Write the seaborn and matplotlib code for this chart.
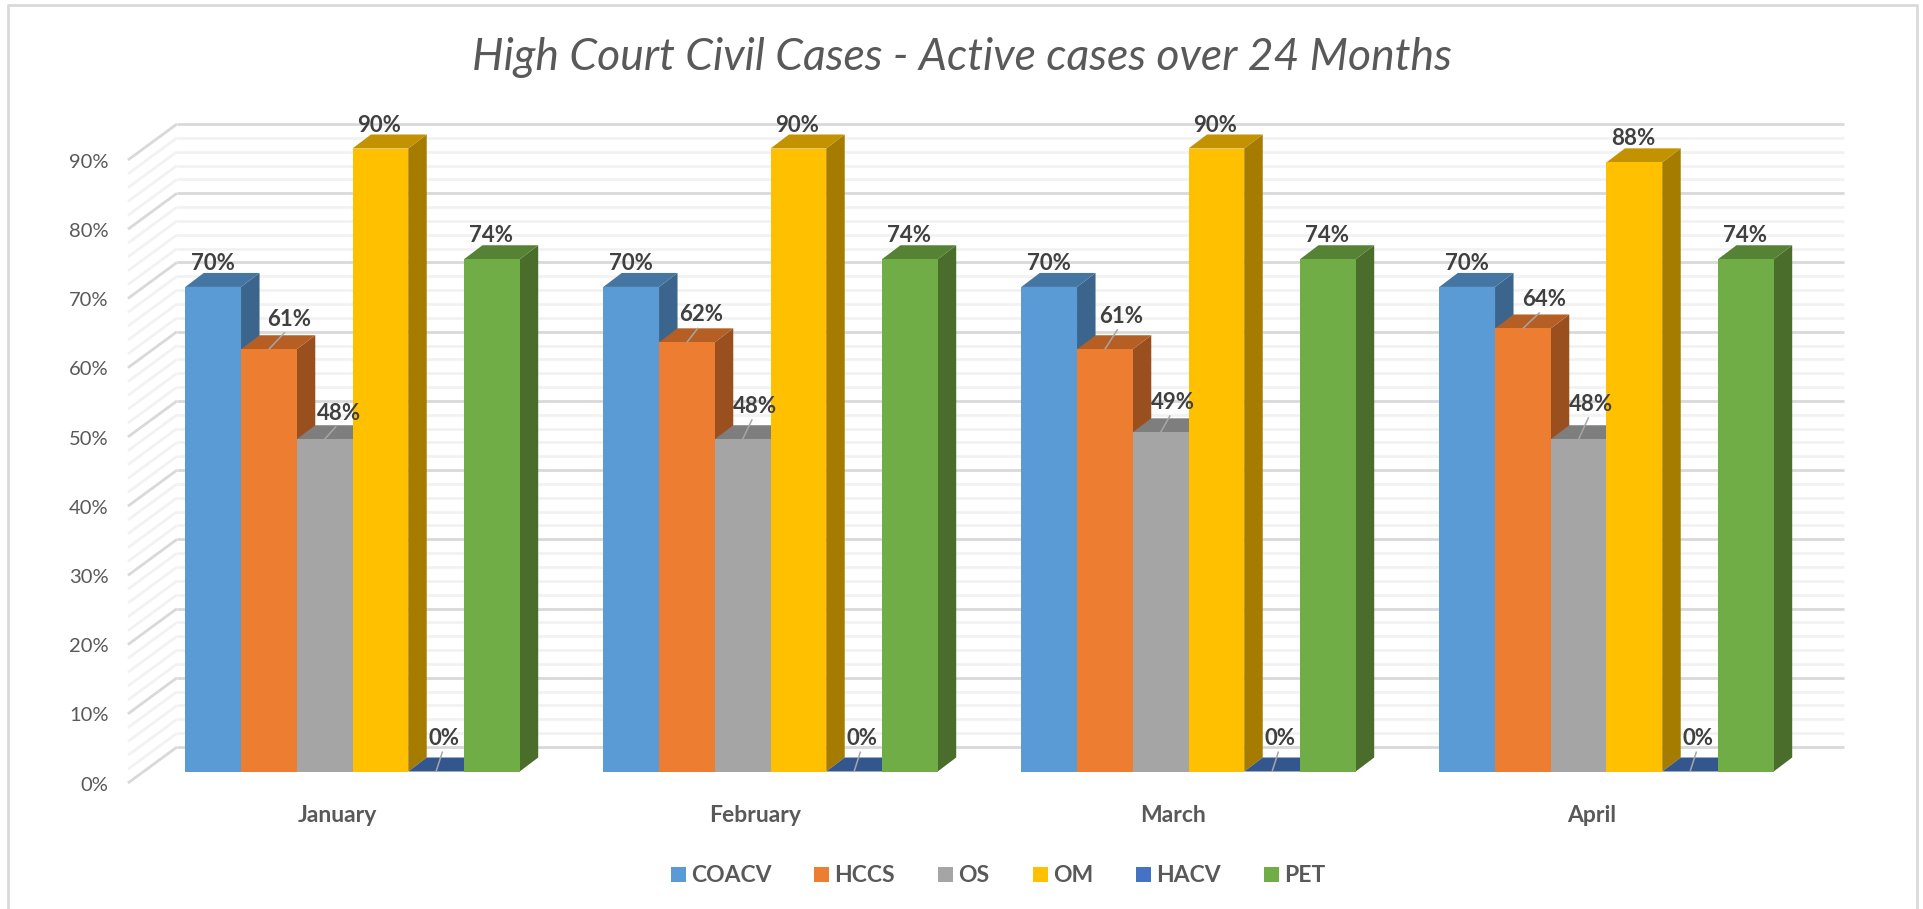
import numpy as np
import pandas as pd
import matplotlib
matplotlib.use("Agg")
import matplotlib.pyplot as plt
import seaborn as sns
from matplotlib.lines import Line2D
from matplotlib.patches import Polygon

months = ["January", "February", "March", "April"]
series = ["COACV", "HCCS", "OS", "OM", "HACV", "PET"]
coacv = [70, 70, 70, 70]
hccs = [61, 62, 61, 64]
os_cases = [48, 48, 49, 48]
om = [90, 90, 90, 88]
hacv = [0, 0, 0, 0]
pet = [74, 74, 74, 74]
y_ticks = [0, 10, 20, 30, 40, 50, 60, 70, 80, 90]

front_colors = ["#5B9BD5", "#ED7D31", "#A5A5A5", "#FFC000", "#4472C4", "#70AD47"]
side_colors = ["#3B658C", "#9A4F1E", "#6B6B6B", "#A67C00", "#2C4A80", "#4A6D2C"]
top_colors = ["#4575A2", "#B55F25", "#7E7E7E", "#C39200", "#34568F", "#558235"]

# pixel layout of the picture
W, H = 1923, 909
X0, UNIT = 352.5, 418.0     # centre of January, px per month
Y0, PCT = 771.5, 623 / 90   # front baseline, px per percent
DX, DY = 18.5, 14.0         # depth of one bar
AX_L, AX_R, AX_T, AX_B = 128, 1860, 90, 790

# data label offsets from the front top centre of each bar, px, per month
label_off = {
    "COACV": [(0, 23.5)] * 4,
    "HCCS": [(20, 30), (14, 27.5), (16, 33), (21, 29)],
    "OS": [(14.5, 26), (12, 33), (12, 30), (12.5, 35)],
    "OM": [(-1, 23.5)] * 4,
    "HACV": [(8, 33), (8, 33), (8, 33), (8, 33)],
    "PET": [(-1, 23.5)] * 4,
}

sns.set_theme(style="white")
plt.rcParams["font.family"] = ["Lato", "DejaVu Sans"]

df = pd.DataFrame({
    "month": months * 6,
    "series": np.repeat(series, 4),
    "value": coacv + hccs + os_cases + om + hacv + pet,
})

fig = plt.figure(figsize=(W / 100, H / 100), dpi=100)
ax = fig.add_axes([AX_L / W, 1 - AX_B / H, (AX_R - AX_L) / W, (AX_B - AX_T) / H])
sns.barplot(data=df, x="month", y="value", hue="series", order=months, hue_order=series,
            palette=front_colors, width=0.8, saturation=1, linewidth=0, ax=ax)

ax.set_xlim((AX_L - X0) / UNIT, (AX_R - X0) / UNIT)
ax.set_ylim((Y0 - AX_B) / PCT, (Y0 - AX_T) / PCT)
ax.set_xlabel("")
ax.set_ylabel("")
sns.despine(ax=ax, left=True, bottom=True)

# walls: minor gridlines every 2%, major every 10%
wall_l = (177 - X0) / UNIT
wall_r = (1844 - X0) / UNIT
side_l = (128 - X0) / UNIT
back_up = (Y0 - 747) / PCT
side_down = (783 - Y0) / PCT
for v in range(0, 91, 2):
    major = v % 10 == 0
    color = "#D9D9D9" if major else "#F2F2F2"
    z = 1.2 if major else 1.1
    ax.plot([wall_l, wall_r], [v + back_up] * 2, color=color, lw=2.0, zorder=z, clip_on=False,
            solid_capstyle="butt")
    ax.plot([side_l, wall_l], [v - side_down, v + back_up], color=color, lw=2.0, zorder=z,
            clip_on=False, solid_capstyle="butt")

# depth faces of the bars, taken from the bars seaborn drew
dx = DX / UNIT
dy = DY / PCT
for i, cont in enumerate(ax.containers):
    for j, bar in enumerate(cont.patches):
        x1 = bar.get_x()
        x2 = x1 + bar.get_width()
        top = bar.get_height()
        bar.set_zorder(3)
        ax.add_patch(Polygon([(x2, 0), (x2 + dx, dy), (x2 + dx, top + dy), (x2, top)],
                             fc=side_colors[i], lw=0, zorder=2))
        ax.add_patch(Polygon([(x1, top), (x1 + dx, top + dy), (x2 + dx, top + dy), (x2, top)],
                             fc=top_colors[i], lw=0, zorder=2))
        off_x, off_y = label_off[series[i]][j]
        cx = (x1 + x2) / 2
        if off_x > 5:
            # grey leader line from the bar to a moved label
            ax.plot([cx, cx + off_x * 0.8 / UNIT], [top, top + (off_y - 13) / PCT], color="#A6A6A6",
                    lw=1.1, zorder=4, solid_capstyle="butt")
        ax.text(cx + off_x / UNIT, top + off_y / PCT, f"{top:.0f}%", ha="center", va="center",
                fontsize=16, fontweight="bold", color="#404040", zorder=5)

# tick labels sit on the front edge of the side wall
ax.set_yticks([v - 1.75 for v in y_ticks])
ax.set_yticklabels([f"{v}%" for v in y_ticks], fontsize=14.5, color="#595959")
ax.set_xticks([i - 15 / UNIT for i in range(len(months))])
ax.set_xticklabels(months, fontsize=16.5, fontweight="bold", color="#595959")
ax.tick_params(axis="y", length=0, pad=14)
ax.tick_params(axis="x", length=0, pad=11)

handles, labels = ax.get_legend_handles_labels()
ax.legend(handles, labels, ncol=6, frameon=False, loc="center",
          bbox_to_anchor=(998 / W, 1 - 876 / H), bbox_transform=fig.transFigure,
          prop={"family": "Lato", "weight": "bold", "size": 16.5}, labelcolor="#595959",
          handlelength=0.66, handleheight=0.66, handletextpad=0.22, columnspacing=1.88,
          borderpad=0, borderaxespad=0)

fig.text(962 / W, 1 - 57 / H, "High Court Civil Cases - Active cases over 24 Months", ha="center",
         va="center", fontsize=32, style="italic", color="#595959")

# outer chart frame, open at the bottom
frame_x = [8 / W, 8 / W, 1917 / W, 1917 / W]
frame_y = [0, 1 - 5 / H, 1 - 5 / H, 0]
fig.add_artist(Line2D(frame_x, frame_y, color="#D9D9D9", lw=2, transform=fig.transFigure))

fig.savefig("out.png", dpi=100)
